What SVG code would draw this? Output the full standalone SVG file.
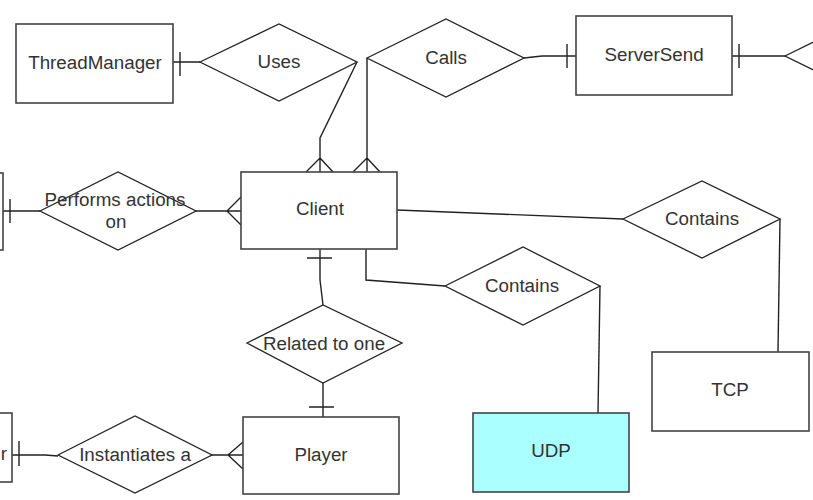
<svg xmlns="http://www.w3.org/2000/svg" width="813" height="500" viewBox="0 0 813 500">
<style>
.ent{fill:#fff;stroke:#444;stroke-width:1.6}
.rel{fill:#fff;stroke:#222;stroke-width:1.3}
.t{font-family:"Liberation Sans",Arial,sans-serif;font-size:18.8px;fill:#333;text-anchor:middle}
.c{fill:none;stroke:#222;stroke-width:1.4}
</style>
<rect width="813" height="500" fill="#fff"/>
<g id="connectors">
  <!-- ThreadManager - Uses -->
  <path class="c" d="M173,62 H200 M180,52 V76"/>
  <!-- Uses - Client -->
  <path class="c" d="M357,62 L320,138 V172 M320,158 L306,172 M320,158 L333,172"/>
  <!-- Calls - Client -->
  <path class="c" d="M367,58 V172 M367,158 L353,172 M367,158 L380,172"/>
  <!-- Calls - ServerSend -->
  <path class="c" d="M524,58 L542,56 H576 M567,44 V68"/>
  <!-- ServerSend - right diamond -->
  <path class="c" d="M732,56 H785 M739,44 V68"/>
  <!-- left entity - Performs -->
  <path class="c" d="M3,211 H40 M10,199 V223"/>
  <!-- Performs - Client -->
  <path class="c" d="M196,211 H241 M227,211 L241,197 M227,211 L241,225"/>
  <!-- Client - Related -->
  <path class="c" d="M320,249 V280 L323,305 M307,258 H332"/>
  <!-- Related - Player -->
  <path class="c" d="M323,383 V417 M309,407 H334"/>
  <!-- left entity - Instantiates -->
  <path class="c" d="M12,455 H45 L58,456 M19,441 V466"/>
  <!-- Instantiates - Player -->
  <path class="c" d="M212,455 H243 M228,455 L243,442 M228,455 L243,469"/>
  <!-- Client - Contains (upper) -->
  <path class="c" d="M397,210 L623,219"/>
  <path class="c" d="M780,219 L778,352"/>
  <!-- Client - Contains (lower) -->
  <path class="c" d="M366,249 V280 L445,286"/>
  <path class="c" d="M600,286 L598,413"/>
</g>
<g id="leftEntity1"><rect class="ent" x="-160" y="173" width="163" height="77"/></g>
<g id="leftEntity2"><rect class="ent" x="-145" y="413" width="157" height="69"/><text class="t" x="7" y="460" style="text-anchor:end">r</text></g>
<g id="threadManager"><rect class="ent" x="16" y="24" width="157" height="79"/><text class="t" x="95" y="69">ThreadManager</text></g>
<g id="uses"><polygon class="rel" points="200,62 279,24 357,62 279,101"/><text class="t" x="279" y="68">Uses</text></g>
<g id="calls"><polygon class="rel" points="367,58 446,19 524,58 446,97"/><text class="t" x="446" y="64">Calls</text></g>
<g id="serverSend"><rect class="ent" x="576" y="16" width="156" height="79"/><text class="t" x="654" y="61">ServerSend</text></g>
<g id="rightDiamond"><polygon class="rel" points="785,56 864,17 942,56 864,95"/></g>
<g id="client"><rect class="ent" x="241" y="172" width="156" height="77"/><text class="t" x="320" y="215">Client</text></g>
<g id="performs"><polygon class="rel" points="40,211 118,172 196,211 118,250"/><text class="t" x="115" y="206">Performs actions</text><text class="t" x="116" y="228">on</text></g>
<g id="related"><polygon class="rel" points="247,343 323,305 402,343 323,383"/><text class="t" x="324" y="350">Related to one</text></g>
<g id="instantiates"><polygon class="rel" points="58,455 135,416 212,455 135,493"/><text class="t" x="135" y="461">Instantiates a</text></g>
<g id="player"><rect class="ent" x="243" y="417" width="156" height="77"/><text class="t" x="321" y="461">Player</text></g>
<g id="containsUpper"><polygon class="rel" points="623,219 702,181 780,219 702,258"/><text class="t" x="702" y="225">Contains</text></g>
<g id="containsLower"><polygon class="rel" points="445,286 523,247 600,286 523,325"/><text class="t" x="522" y="292">Contains</text></g>
<g id="tcp"><rect class="ent" x="652" y="352" width="157" height="79"/><text class="t" x="730" y="396">TCP</text></g>
<g id="udp"><rect class="ent" x="473" y="413" width="156" height="79" style="fill:#aaffff"/><text class="t" x="551" y="457">UDP</text></g>
</svg>
